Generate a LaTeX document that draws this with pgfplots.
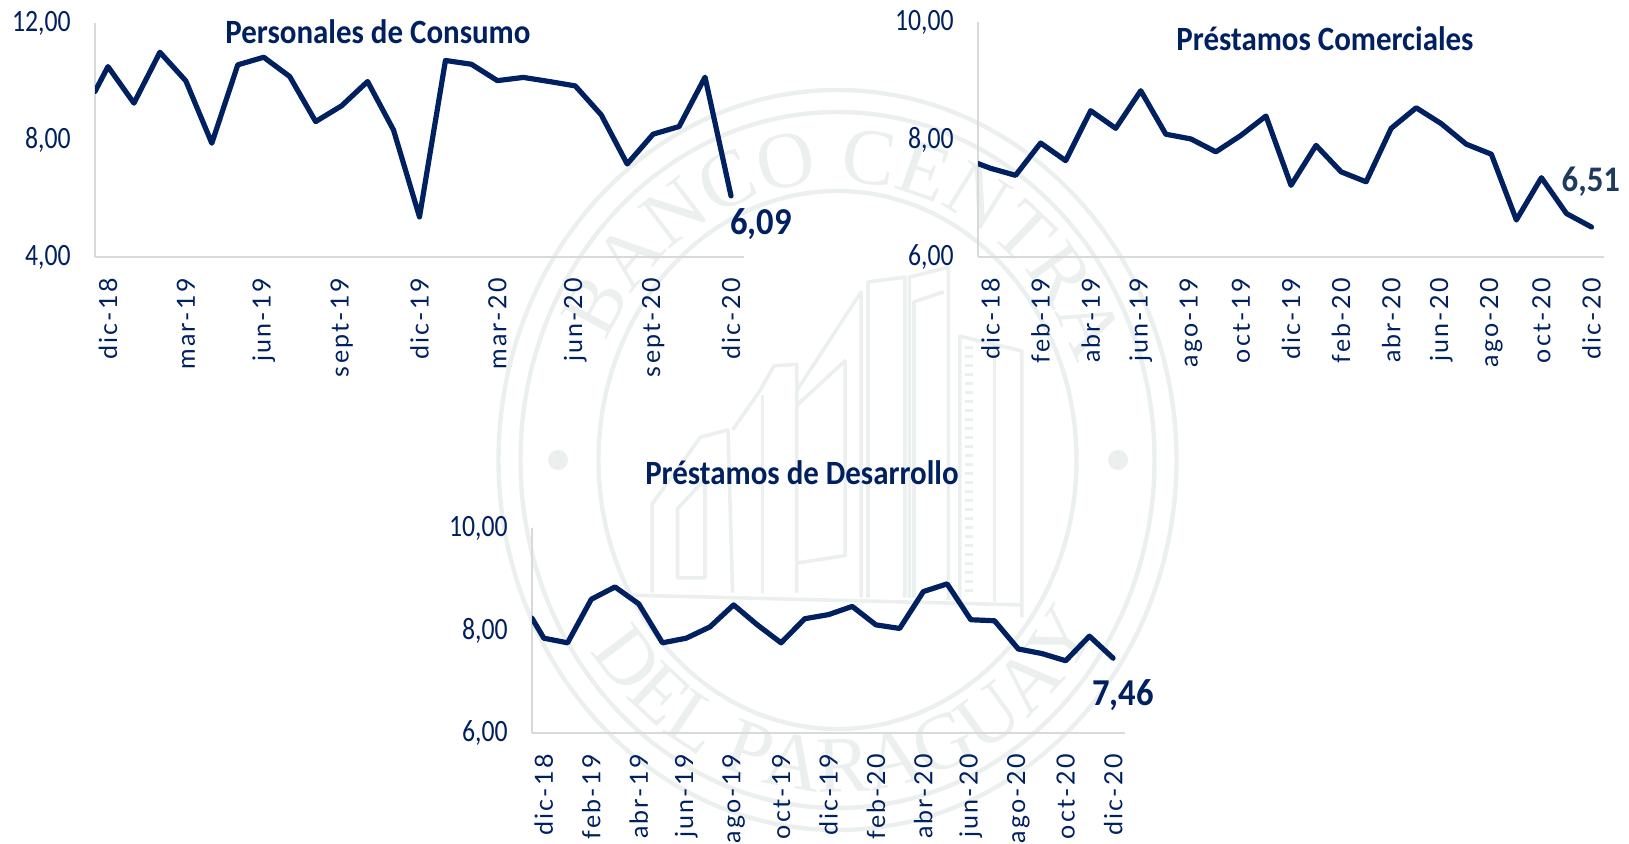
\documentclass[border=0pt]{standalone}
\usepackage{fontspec}
\usepackage{pgfplots}
\pgfplotsset{compat=1.18}
\usetikzlibrary{decorations.text}
\setmainfont{Carlito}
\newfontfamily\xlab[LetterSpace=9]{Lato}
\newfontfamily\ylab[FakeStretch=0.83]{Carlito}
\newfontfamily\tfont[FakeStretch=0.91]{Carlito}
\newfontfamily\wmfont{Liberation Serif}
\definecolor{navy}{HTML}{002060}
\definecolor{wm}{HTML}{EBEFED}
\definecolor{axg}{HTML}{D9D9D9}
\definecolor{lab}{HTML}{1F3A5F}
\pgfplotsset{
  bcp/.style={
    anchor=south west, scale only axis, clip mode=individual,
    xmin=-0.5, xmax=24.5,
    axis x line=bottom, axis y line=left,
    axis line style={axg, line width=0.9pt, -},
    tick style={draw=none},
    major tick length=0pt,
    xticklabel shift=10.5pt,
    yticklabel shift=12pt,
    x tick label style={rotate=90, anchor=east, inner sep=0pt, text=navy, font=\fontsize{12.5}{14}\xlab},
    y tick label style={inner sep=0pt, text=navy, font=\fontsize{15.5}{16}\ylab},
  },
  bcpline/.style={navy, line width=2.6pt, line join=round, line cap=round, no markers},
}
\begin{document}
\begin{tikzpicture}[x=0.5pt,y=0.5pt]
\path[use as bounding box, clip] (0,0) rectangle (1629,843);
% ---- watermark
\begin{scope}[wm, line width=2.2pt]
\draw (837.5,383) ellipse [x radius=339, y radius=370];
\draw (837.5,383) ellipse [x radius=317, y radius=348];
\draw (837.5,383) ellipse [x radius=239, y radius=269];
\fill (558,383) circle [radius=10];
\fill (1118,383) circle [radius=10];
\path[decorate, decoration={text along path, text color=wm, text align=fit to path,
  text={|\fontsize{40}{42}\wmfont|BANCO CENTRAL}}]
  (837.5,383) ++ (155:255 and 278) arc [start angle=155, end angle=22, x radius=255, y radius=278];
\path[decorate, decoration={text along path, text color=wm, text align=fit to path,
  text={|\fontsize{40}{42}\wmfont|DEL PARAGUAY}}]
  (837.5,383) ++ (215:302 and 332) arc [start angle=215, end angle=325, x radius=302, y radius=332];
\end{scope}
\begin{scope}[shift={(480,773)}, x=0.2296pt, y=-0.2465pt, wm, line width=1.8pt, line join=round]
\draw (375,1060)--(375,880)--(480,745)--(540,730)--(550,1060);
\draw (430,1030)--(430,890)--(490,830)--(490,1030)--cycle;
\draw (550,730)--(610,650)--(640,600)--(690,597)--(690,1060);
\draw (615,660)--(615,1060);
\draw (690,680)--(795,590)--(795,985)--(690,1000);
\draw (690,650)--(830,450)--(830,1070);
\draw (845,1070)--(845,430)--(925,420)--(925,1070);
\draw (935,1070)--(935,420)--(1020,400)--(1020,1075);
\draw (945,1070)--(945,470)--(1010,450);
\draw (1045,1075)--(1045,540)--(1180,570)--(1180,1110);
\draw (1120,1080)--(1120,560);
\draw (320,1065)--(1180,1085);
\draw[dash pattern=on 1.5pt off 3pt, line width=4pt] (1065,560)--(1065,1060);
\end{scope}
% ---- Personales de Consumo
\begin{axis}[bcp, at={(47.5pt,293pt)}, width=324.5pt, height=117pt,
  ymin=4, ymax=12, ytick={4,8,12}, yticklabels={{4,00},{8,00},{12,00}},
  xtick={0,3,...,24}, xticklabels={dic-18,mar-19,jun-19,sept-19,dic-19,mar-20,jun-20,sept-20,dic-20}]
\addplot[bcpline] coordinates {(-0.5,9.66)(0,10.51)(1,9.26)(2,11.0)(3,10.02)(4,7.89)(5,10.57)(6,10.83)(7,10.17)(8,8.63)(9,9.17)(10,10.0)(11,8.34)(12,5.37)(13,10.72)(14,10.59)(15,10.03)(16,10.14)(17,10.0)(18,9.85)(19,8.86)(20,7.18)(21,8.2)(22,8.46)(23,10.15)(24,6.09)};
\node[navy, font=\fontsize{19}{20}\tfont\bfseries] at (axis cs:25.15,5.13) {6,09};
\end{axis}
\node[navy, font=\fontsize{17}{18}\tfont\bfseries] at (378,811) {Personales de Consumo};
% ---- Préstamos Comerciales
\begin{axis}[bcp, at={(489pt,293pt)}, width=313pt, height=117.5pt,
  ymin=6, ymax=10, ytick={6,8,10}, yticklabels={{6,00},{8,00},{10,00}},
  xtick={0,2,...,24}, xticklabels={dic-18,feb-19,abr-19,jun-19,ago-19,oct-19,dic-19,feb-20,abr-20,jun-20,ago-20,oct-20,dic-20}]
\addplot[bcpline] coordinates {(-0.5,7.59)(0,7.51)(1,7.39)(2,7.94)(3,7.64)(4,8.49)(5,8.19)(6,8.83)(7,8.09)(8,8.01)(9,7.79)(10,8.07)(11,8.40)(12,7.22)(13,7.90)(14,7.45)(15,7.28)(16,8.19)(17,8.54)(18,8.27)(19,7.92)(20,7.75)(21,6.63)(22,7.35)(23,6.74)(24,6.51)};
\node[lab, font=\fontsize{18}{20}\tfont\bfseries, anchor=east] at (axis cs:25.42,7.28) {6,51};
\end{axis}
\node[navy, font=\fontsize{17}{18}\tfont\bfseries] at (1325,804) {Préstamos Comerciales};
% ---- Préstamos de Desarrollo
\begin{axis}[bcp, at={(266pt,55pt)}, width=296.5pt, height=102.5pt,
  ymin=6, ymax=10, ytick={6,8,10}, yticklabels={{6,00},{8,00},{10,00}},
  xtick={0,2,...,24}, xticklabels={dic-18,feb-19,abr-19,jun-19,ago-19,oct-19,dic-19,feb-20,abr-20,jun-20,ago-20,oct-20,dic-20}]
\addplot[bcpline] coordinates {(-0.5,8.24)(0,7.85)(1,7.76)(2,8.61)(3,8.85)(4,8.52)(5,7.76)(6,7.85)(7,8.07)(8,8.50)(9,8.11)(10,7.76)(11,8.23)(12,8.31)(13,8.47)(14,8.11)(15,8.04)(16,8.76)(17,8.91)(18,8.21)(19,8.19)(20,7.64)(21,7.55)(22,7.41)(23,7.89)(24,7.46)};
\node[navy, font=\fontsize{19}{20}\tfont\bfseries] at (axis cs:24.42,6.74) {7,46};
\end{axis}
\node[navy, font=\fontsize{17}{18}\tfont\bfseries] at (802,370) {Préstamos de Desarrollo};
\end{tikzpicture}
\end{document}
